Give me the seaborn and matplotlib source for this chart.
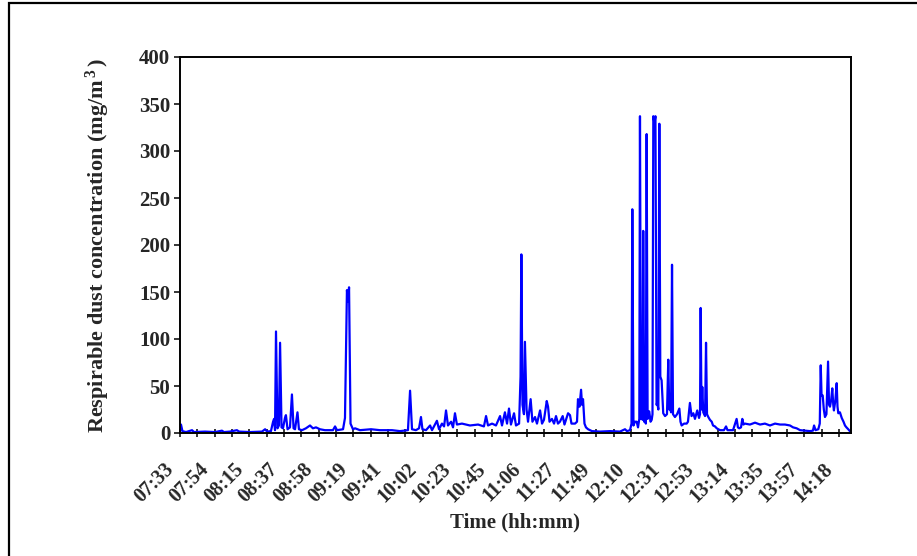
import matplotlib
matplotlib.use("Agg")
import matplotlib.pyplot as plt
import matplotlib.transforms as mtransforms
from matplotlib.patches import Rectangle
import seaborn as sns
import pandas as pd
import numpy as np

# ---- data: minutes after 07:33 and respirable dust concentration (mg/m3)
minutes = [
    0.0, 0.6, 1.5, 3.7, 7.4, 8.6, 15.4, 21.5, 25.8, 27.0, 30.7, 35.0, 36.3, 43.0,
    50.4, 52.3, 53.5, 55.9, 57.2, 57.8, 58.4, 59.0, 59.9, 60.8, 61.5, 62.4, 63.3,
    64.5, 65.1, 66.1, 67.6, 68.8, 69.8, 70.7, 72.2, 73.1, 75.0, 77.4, 79.9, 81.7,
    83.6, 86.0, 89.1, 94.0, 95.3, 96.5, 100.2, 101.4, 102.6, 103.3, 103.9, 104.8,
    106.3, 107.6, 110.6, 117.4, 122.9, 130.3, 135.2, 140.1, 141.4, 142.6, 145.0,
    146.9, 148.1, 149.0, 151.2, 153.7, 154.9, 157.9, 159.2, 161.0, 162.3, 163.5,
    164.7, 166.6, 167.8, 169.0, 170.2, 173.3, 178.2, 183.2, 186.8, 188.1, 189.3,
    191.8, 194.2, 196.7, 197.9, 199.7, 201.0, 202.2, 203.4, 205.3, 206.5, 208.4,
    209.3, 209.8, 210.5, 211.4, 212.0, 213.0, 213.9, 215.5, 216.6, 218.2, 219.4,
    221.3, 222.5, 223.7, 225.4, 226.2, 227.1, 228.6, 229.9, 231.1, 232.3, 233.5,
    235.2, 236.3, 238.5, 239.7, 240.6, 242.8, 244.0, 244.6, 245.5, 246.5, 247.1,
    247.7, 248.6, 249.5, 250.8, 253.2, 258.1, 264.3, 270.4, 273.5, 274.7, 276.6,
    277.5, 278.0, 278.7, 279.6, 280.7, 281.5, 282.3, 282.7, 283.3, 283.8, 284.3,
    284.7, 285.3, 285.8, 286.3, 286.8, 287.4, 288.4, 289.2, 289.9, 290.4, 290.9,
    291.6, 292.2, 292.9, 293.3, 294.0, 294.6, 295.2, 296.0, 297.0, 298.1, 299.3,
    300.1, 300.7, 301.2, 301.8, 302.4, 303.0, 304.2, 305.5, 306.9, 307.6, 308.3,
    309.8, 311.4, 312.2, 313.4, 314.4, 315.5, 316.5, 317.9, 319.0, 319.6, 320.0,
    320.5, 321.0, 321.6, 322.7, 323.3, 323.9, 324.7, 325.7, 326.8, 327.6, 328.8,
    329.9, 331.9, 334.3, 335.6, 336.5, 339.9, 342.1, 342.9, 343.7, 344.8, 345.6,
    346.3, 347.2, 350.3, 353.4, 356.5, 359.5, 362.6, 365.7, 368.8, 371.8, 374.9,
    376.8, 379.0, 381.1, 384.1, 387.2, 389.0, 389.7, 390.6, 392.3, 393.2, 393.8,
    394.3, 395.0, 395.7, 396.4, 397.3, 398.3, 398.9, 399.5, 400.2, 400.9, 401.5,
    401.9, 402.8, 403.6, 404.1, 404.6, 405.6, 406.7, 407.8, 408.7, 409.6, 410.7,
    411.7, 412.3,
]
concentration = [
    2, 9, 2, 1, 3, 1, 1.5, 1, 2.5, 1, 1.5, 3, 1.5, 1,
    1.5, 4, 1.5, 2, 12, 15, 3, 108, 5, 8, 96, 6, 5,
    16, 19, 4, 6, 41, 5, 4, 22, 4, 3, 5, 8, 5,
    6, 4, 3, 3, 7, 3, 4, 16, 152, 140, 155, 10,
    4, 5, 3, 4, 3, 3, 2, 3, 45, 4, 3,
    5, 17, 4, 3, 8, 3, 13, 4, 10, 7, 24,
    8, 12, 6, 21, 9, 10, 8, 9, 7, 18, 8,
    10, 8, 18, 8, 22, 10, 26, 9, 21, 8, 10,
    60, 190, 30, 20, 97, 25, 12, 36, 12, 17, 10,
    24, 10, 14, 34, 28, 12, 15, 10, 18, 10, 12,
    18, 9, 21, 19, 10, 10, 12, 36, 28, 46, 30,
    36, 10, 6, 4, 2, 1.5, 2, 1.5, 4, 2, 3,
    10, 238, 8, 12, 12, 6, 15, 337, 15, 21, 14,
    215, 12, 14, 10, 318, 15, 23, 12, 14, 20, 337,
    330, 337, 30, 32, 25, 329, 60, 56, 21, 18, 20,
    78, 25, 28, 22, 179, 20, 17, 20, 26, 12, 8,
    10, 10, 12, 32, 18, 21, 15, 24, 16, 20, 133,
    25, 49, 22, 18, 96, 20, 17, 14, 12, 8, 7,
    5, 3, 3, 7, 3, 3, 15, 6, 5, 6, 15,
    9, 10, 9, 11, 9, 10, 8, 10, 9, 9, 8,
    6, 5, 3, 2.5, 2, 2.5, 8, 3, 4, 10, 72,
    40, 40, 25, 17, 20, 76, 30, 28, 35, 47.5, 30,
    24, 35, 53, 28, 21, 22, 16, 12, 8, 6, 4,
    2, 2,
]
time_labels = ["07:33", "07:54", "08:15", "08:37", "08:58", "09:19", "09:41",
               "10:02", "10:23", "10:45", "11:06", "11:27", "11:49", "12:10",
               "12:31", "12:53", "13:14", "13:35", "13:57", "14:18"]
y_ticks = [0, 50, 100, 150, 200, 250, 300, 350, 400]

df = pd.DataFrame({"minutes": minutes, "conc": concentration})

sns.set_theme(style="ticks")
plt.rcParams["font.family"] = ["Liberation Serif", "DejaVu Serif"]
plt.rcParams["font.weight"] = "bold"
plt.rcParams["mathtext.fontset"] = "custom"
plt.rcParams["mathtext.rm"] = "Liberation Serif:bold"
plt.rcParams["mathtext.default"] = "rm"

W, H = 917, 556
fig = plt.figure(figsize=(W / 100, H / 100), dpi=100)
fig.patch.set_facecolor("white")
ax = fig.add_axes([180 / W, 1 - 433 / H, (851 - 180) / W, (433 - 57) / H])

sns.lineplot(data=df, x="minutes", y="conc", color="#0000FF", linewidth=1.6,
             estimator=None, sort=False, ax=ax)

# x axis: ticks every (405/38) minutes, labels every second tick
step = 405.0 / 38
major = [i * 2 * step for i in range(len(time_labels))]
minor = [(2 * i + 1) * step for i in range(len(time_labels) - 1)]
ax.set_xlim(0, 412.4)
ax.set_xticks(major)
ax.set_xticks(minor, minor=True)
ax.set_xticklabels(time_labels, rotation=45, ha="right", va="center",
                   rotation_mode="anchor", fontsize=14.5, fontweight="bold")
ax.set_ylim(0, 400)
ax.set_yticks(y_ticks)
ax.set_yticklabels([str(v) for v in y_ticks], fontsize=15, fontweight="bold")

ax.tick_params(axis="x", which="both", direction="inout", length=6, width=1.1,
               color="black", pad=21)
ax.tick_params(axis="y", which="both", direction="out", length=4, width=1.1,
               color="black", pad=3)

offset = mtransforms.ScaledTranslation(-9 / 100, 0, fig.dpi_scale_trans)
for lab in ax.get_xticklabels():
    lab.set_transform(lab.get_transform() + offset)

for sp in ax.spines.values():
    sp.set_visible(True)
    sp.set_color("black")
    sp.set_linewidth(1.4)

ax.set_xlabel("Time (hh:mm)", fontsize=15, fontweight="bold", va="center")
ax.set_ylabel("Respirable dust concentration (mg/m$^{\\,3\\,}$)", fontsize=16,
              fontweight="bold", va="center")
ax.xaxis.set_label_coords(0.5, (433 - 522) / 376)
ax.yaxis.set_label_coords((98 - 180) / 671, 0.5)

# outer chart border
fig.patches.append(Rectangle((8.5 / W, -0.1), 1.2, 1.1 - 2.7 / H,
                             transform=fig.transFigure, fill=False,
                             lw=1.6, ec="black"))

fig.savefig("out.png", dpi=100, facecolor="white")
